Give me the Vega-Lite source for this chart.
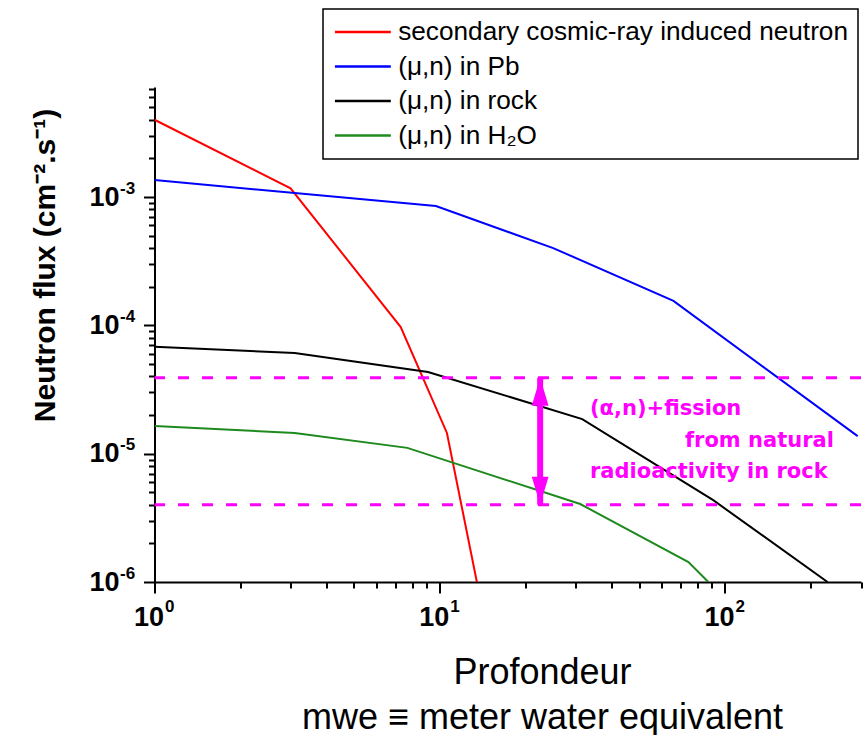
{
  "$schema": "https://vega.github.io/schema/vega-lite/v6.json",
  "width": 706.5,
  "height": 495,
  "autosize": "none",
  "padding": {"left": 154.5, "top": 87, "right": 3, "bottom": 153},
  "background": "white",
  "config": {"view": {"stroke": null}, "font": "Liberation Sans"},
  "datasets": {
    "curves": [
      {"source": "secondary cosmic-ray induced neutron", "depth": 1, "flux": 0.004},
      {"source": "secondary cosmic-ray induced neutron", "depth": 3.0, "flux": 0.00117},
      {"source": "secondary cosmic-ray induced neutron", "depth": 7.3, "flux": 0.000097},
      {"source": "secondary cosmic-ray induced neutron", "depth": 10.6, "flux": 0.0000145},
      {"source": "secondary cosmic-ray induced neutron", "depth": 13.5, "flux": 0.000001},
      {"source": "(μ,n) in Pb", "depth": 1, "flux": 0.001357},
      {"source": "(μ,n) in Pb", "depth": 9.7, "flux": 0.00085},
      {"source": "(μ,n) in Pb", "depth": 25, "flux": 0.0004},
      {"source": "(μ,n) in Pb", "depth": 66, "flux": 0.000155},
      {"source": "(μ,n) in Pb", "depth": 292, "flux": 0.0000137},
      {"source": "(μ,n) in rock", "depth": 1, "flux": 0.000068},
      {"source": "(μ,n) in rock", "depth": 3.1, "flux": 0.000061},
      {"source": "(μ,n) in rock", "depth": 9.1, "flux": 0.0000433},
      {"source": "(μ,n) in rock", "depth": 31.6, "flux": 0.0000186},
      {"source": "(μ,n) in rock", "depth": 91, "flux": 0.00000434},
      {"source": "(μ,n) in rock", "depth": 229, "flux": 0.000001},
      {"source": "(μ,n) in H₂O", "depth": 1, "flux": 0.0000164},
      {"source": "(μ,n) in H₂O", "depth": 3.1, "flux": 0.0000145},
      {"source": "(μ,n) in H₂O", "depth": 7.7, "flux": 0.0000111},
      {"source": "(μ,n) in H₂O", "depth": 31.1, "flux": 0.00000405},
      {"source": "(μ,n) in H₂O", "depth": 74.5, "flux": 0.00000143},
      {"source": "(μ,n) in H₂O", "depth": 87.5, "flux": 0.000001}
    ],
    "levels": [{"flux": 0.000039}, {"flux": 0.000004}],
    "arrow": [{"depth": 22.5, "top": 0.000039, "bottom": 0.000004}],
    "notes": [
      {"label": "(α,n)+fission", "depth": 33.65, "flux": 0.00002},
      {"label": "from natural", "depth": 72.4, "flux": 0.00001125},
      {"label": "radioactivity in rock", "depth": 33.65, "flux": 0.00000645}
    ]
  },
  "layer": [
    {
      "data": {"name": "curves"},
      "mark": {"type": "line", "strokeWidth": 2, "clip": true},
      "encoding": {
        "x": {
          "field": "depth", "type": "quantitative",
          "scale": {"type": "log", "domain": [1, 300], "nice": false},
          "axis": {
            "orient": "bottom",
            "values": [1, 2, 3, 4, 5, 6, 7, 8, 9, 10, 20, 30, 40, 50, 60, 70, 80, 90, 100, 200, 300],
            "labelExpr": "abs(log(datum.value)/LN10 - round(log(datum.value)/LN10)) < 0.001 ? '10' : ''",
            "labelFont": "Liberation Sans", "labelFontSize": 27, "labelFontWeight": "bold", "labelColor": "black",
            "labelBaseline": "top", "labelAlign": "center", "labelPadding": 11, "labelOffset": -6,
            "labelOverlap": false, "labelFlush": false, "labelBound": false,
            "tickSize": {"condition": {"test": "abs(log(datum.value)/LN10 - round(log(datum.value)/LN10)) < 0.001", "value": 11}, "value": 6},
            "tickColor": "black", "tickWidth": 2, "domainColor": "black", "domainWidth": 2, "grid": false,
            "title": ["Profondeur", "mwe ≡ meter water equivalent"],
            "titleFont": "Liberation Sans", "titleFontSize": 36, "titleFontWeight": "normal", "titleColor": "black",
            "titleX": 387.5, "titleY": 101, "titleBaseline": "alphabetic", "titleLineHeight": 45, "titleAlign": "center"
          }
        },
        "y": {
          "field": "flux", "type": "quantitative",
          "scale": {"type": "log", "domain": [0.000001, 0.0072], "nice": false},
          "axis": {
            "orient": "left",
            "values": [0.000001, 0.000002, 0.000003, 0.000004, 0.000005, 0.000006, 0.000007, 0.000008, 0.000009,
                       0.00001, 0.00002, 0.00003, 0.00004, 0.00005, 0.00006, 0.00007, 0.00008, 0.00009,
                       0.0001, 0.0002, 0.0003, 0.0004, 0.0005, 0.0006, 0.0007, 0.0008, 0.0009,
                       0.001, 0.002, 0.003, 0.004, 0.005, 0.006, 0.007],
            "labelExpr": "abs(log(datum.value)/LN10 - round(log(datum.value)/LN10)) < 0.001 ? '10' : ''",
            "labelFont": "Liberation Sans", "labelFontSize": 27, "labelFontWeight": "bold", "labelColor": "black",
            "labelAlign": "right", "labelBaseline": "middle", "labelPadding": 24.5,
            "labelOverlap": false, "labelFlush": false, "labelBound": false,
            "tickSize": {"condition": {"test": "abs(log(datum.value)/LN10 - round(log(datum.value)/LN10)) < 0.001", "value": 11}, "value": 6},
            "tickColor": "black", "tickWidth": 2, "domainColor": "black", "domainWidth": 2, "grid": false,
            "title": "Neutron flux (cm⁻².s⁻¹)",
            "titleFont": "Liberation Sans", "titleFontSize": 30, "titleFontWeight": "bold", "titleColor": "black",
            "titleAngle": -90, "titleX": -100, "titleY": 178, "titleBaseline": "alphabetic", "titleAlign": "center"
          }
        },
        "color": {
          "field": "source", "type": "nominal",
          "scale": {
            "domain": ["secondary cosmic-ray induced neutron", "(μ,n) in Pb", "(μ,n) in rock", "(μ,n) in H₂O"],
            "range": ["#ff0000", "#0000ff", "#000000", "#1e8a1e"]
          },
          "legend": {
            "orient": "none", "legendX": 168.5, "legendY": -78, "title": null,
            "strokeColor": "black", "fillColor": "white", "padding": 10,
            "labelFont": "Liberation Sans", "labelFontSize": 26.2, "labelColor": "black", "labelLimit": 0,
            "symbolType": "M-1,0H4", "symbolSize": 500, "symbolStrokeWidth": 2.5, "labelOffset": 39,
            "rowPadding": 7.5, "labelBaseline": "middle",
            "encode": {"legend": {"update": {"strokeWidth": {"value": 1.5}}}}
          }
        }
      }
    },
    {
      "data": {"name": "levels"},
      "mark": {"type": "rule", "stroke": "#ff00ff", "strokeWidth": 3, "strokeDash": [11, 13]},
      "encoding": {
        "y": {
          "field": "flux", "type": "quantitative",
          "scale": {"type": "log", "domain": [0.000001, 0.0072], "nice": false},
          "axis": {
            "orient": "left", "values": [0.000001, 0.00001, 0.0001, 0.001],
            "labelExpr": "'' + round(log(datum.value)/LN10)",
            "ticks": false, "tickSize": 0, "domain": false, "grid": false,
            "labelAlign": "left", "labelBaseline": "middle", "labelPadding": 35, "labelOffset": -9,
            "labelFont": "Liberation Sans", "labelFontSize": 17, "labelFontWeight": "bold", "labelColor": "black",
            "labelOverlap": false, "labelFlush": false, "labelBound": false, "title": null
          }
        }
      }
    },
    {
      "data": {"name": "arrow"},
      "mark": {"type": "rule", "stroke": "#ff00ff", "strokeWidth": 6},
      "encoding": {
        "x": {
          "field": "depth", "type": "quantitative",
          "scale": {"type": "log", "domain": [1, 300], "nice": false},
          "axis": {
            "orient": "bottom", "values": [1, 10, 100],
            "labelExpr": "'' + round(log(datum.value)/LN10)",
            "ticks": false, "tickSize": 0, "domain": false, "grid": false,
            "labelAlign": "left", "labelBaseline": "top", "labelPadding": 16, "labelOffset": 10,
            "labelFont": "Liberation Sans", "labelFontSize": 17, "labelFontWeight": "bold", "labelColor": "black",
            "labelOverlap": false, "labelFlush": false, "labelBound": false, "title": null
          }
        },
        "y": {"field": "top", "type": "quantitative", "axis": null},
        "y2": {"field": "bottom"}
      }
    },
    {
      "data": {"name": "arrow"},
      "mark": {"type": "point", "shape": "M0,0L0.6,2L-0.6,2Z", "size": 784, "filled": true, "color": "#ff00ff", "opacity": 1, "strokeWidth": 0},
      "encoding": {
        "x": {"field": "depth", "type": "quantitative", "axis": null},
        "y": {"field": "top", "type": "quantitative", "axis": null}
      }
    },
    {
      "data": {"name": "arrow"},
      "mark": {"type": "point", "shape": "M0,0L0.6,-2L-0.6,-2Z", "size": 784, "filled": true, "color": "#ff00ff", "opacity": 1, "strokeWidth": 0},
      "encoding": {
        "x": {"field": "depth", "type": "quantitative", "axis": null},
        "y": {"field": "bottom", "type": "quantitative", "axis": null}
      }
    },
    {
      "data": {"name": "notes"},
      "mark": {"type": "text", "font": "DejaVu Sans", "fontWeight": "bold", "fontSize": 21, "align": "left", "baseline": "alphabetic", "color": "#ff00ff"},
      "encoding": {
        "x": {"field": "depth", "type": "quantitative", "axis": null},
        "y": {"field": "flux", "type": "quantitative", "axis": null},
        "text": {"field": "label"}
      }
    }
  ],
  "resolve": {
    "scale": {"x": "shared", "y": "shared"},
    "axis": {"x": "independent", "y": "independent"}
  }
}
